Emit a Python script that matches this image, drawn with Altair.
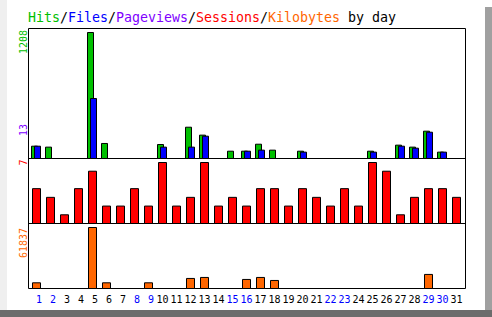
import altair as alt
import pandas as pd

days = list(range(1, 32))
hits = [118, 109, 0, 0, 1208, 144, 0, 0, 0, 134, 0, 300, 224, 0, 70, 70,
        137, 80, 0, 70, 0, 0, 0, 0, 70, 0, 128, 109, 262, 61, 0]
files = [118, 0, 0, 0, 575, 0, 0, 0, 0, 109, 0, 109, 214, 0, 0, 70,
         80, 0, 0, 61, 0, 0, 0, 0, 61, 0, 118, 99, 252, 61, 0]
sessions = [4, 3, 1, 4, 6, 2, 2, 4, 2, 7, 2, 3, 7, 2, 3, 2,
            4, 4, 2, 4, 3, 2, 4, 2, 7, 6, 1, 3, 4, 4, 3]
kbytes = [5776, 0, 0, 0, 61837, 5776, 0, 0, 5776, 0, 0, 10193, 11212, 0, 0, 9173,
          11212, 8154, 0, 0, 0, 0, 0, 0, 0, 0, 0, 0, 14270, 0, 0]
pageviews_max = 13
weekend_days = [1, 2, 8, 9, 15, 16, 22, 23, 29, 30]

title_parts = ["Hits", "/", "Files", "/", "Pageviews", "/", "Sessions", "/", "Kilobytes", "by day"]
title_colors = ["#00c000", "#000000", "#0000ff", "#000000", "#8000ff", "#000000",
                "#ff0000", "#000000", "#ff6600", "#000000"]

GREEN, BLUE, PURPLE, RED, ORANGE = "#00c000", "#0000ff", "#8000ff", "#ff0000", "#ff6600"
FONT = "DejaVu Sans Mono"

df = pd.DataFrame({"day": days, "hits": hits, "files": files,
                   "sessions": sessions, "kbytes": kbytes})
df["zero"] = 0
df["label"] = df["day"].astype(str)
df["lcolor"] = ["#0000ff" if d in weekend_days else "#000000" for d in days]

xs = alt.Scale(domain=[1, 31], range=[36.5, 456.5], nice=False, zero=False)
one = pd.DataFrame({"a": [0]})

def rect(x, x2, y, y2, fill, stroke=None):
    kw = dict(fill=fill)
    if stroke:
        kw.update(stroke=stroke, strokeWidth=1)
    else:
        kw.update(strokeWidth=0)
    return alt.Chart(one).mark_rect(**kw).encode(
        x=alt.value(x), x2=alt.value(x2), y=alt.value(y), y2=alt.value(y2))

# bevel frame
left = rect(0, 7, 0, 317, "#efefef")
right = rect(485, 492, 7, 317, "#a0a0a0")
bottom = rect(0, 492, 310, 317, "#6c6c6c")
frame = rect(28.5, 465.5, 28.5, 288.5, "white", "black")
seps = alt.Chart(pd.DataFrame({"y": [158.5, 223.5]})).mark_rule(color="black", strokeWidth=1).encode(
    x=alt.value(28.5), x2=alt.value(465.5),
    y=alt.Y("y:Q", scale=alt.Scale(domain=[0, 317], range=[0, 317], nice=False, zero=False), axis=None))

def bars(field, color, lo, hi, ydom, yrange):
    ys = alt.Scale(domain=ydom, range=yrange, nice=False, zero=False)
    return alt.Chart(df).transform_filter(
        f"datum.{field} > 0"
    ).transform_calculate(
        x0=f"datum.day + ({lo})/14", x1=f"datum.day + ({hi})/14"
    ).mark_rect(fill=color, stroke="black", strokeWidth=1).encode(
        x=alt.X("x0:Q", scale=xs, axis=None),
        x2="x1:Q",
        y=alt.Y(f"{field}:Q", scale=ys, axis=None),
        y2="zero:Q",
    )

hits_l = bars("hits", GREEN, -5, 1, [0, max(hits)], [158.5, 32.5])
files_l = bars("files", BLUE, -2, 4, [0, max(hits)], [158.5, 32.5])
sess_l = bars("sessions", RED, -4, 4, [0, max(sessions)], [223.5, 162.5])
kb_l = bars("kbytes", ORANGE, -4, 4, [0, max(kbytes)], [288.5, 227.5])

day_labels = alt.Chart(df).transform_calculate(
    xl="datum.day + (datum.day < 10 ? 2.5/14 : 0)"
).mark_text(font=FONT, fontSize=10, align="center", baseline="alphabetic").encode(
    x=alt.X("xl:Q", scale=xs, axis=None),
    y=alt.value(303),
    text="label:N",
    color=alt.Color("lcolor:N", scale=None),
)

def ylabel(text, color, y):
    return alt.Chart(one).mark_text(font=FONT, fontSize=10, angle=270, align="right",
                                    baseline="alphabetic", color=color, text=text).encode(
        x=alt.value(27), y=alt.value(y))

yl1 = ylabel(str(max(hits)), GREEN, 30)
yl2 = ylabel(str(pageviews_max), PURPLE, 124)
yl3 = ylabel(str(max(sessions)), RED, 159.5)
yl4 = ylabel(str(max(kbytes)), ORANGE, 228)

cols = []
c = 0
for p in title_parts:
    if p.startswith("by"):
        c += 1
    cols.append(c)
    c += len(p)
tdf = pd.DataFrame({"text": title_parts, "color": title_colors, "col": cols})
title = alt.Chart(tdf).mark_text(font=FONT, fontSize=13.3, align="left", baseline="alphabetic").encode(
    x=alt.X("col:Q", scale=alt.Scale(domain=[0, 46], range=[28, 28 + 8 * 46], nice=False, zero=False), axis=None),
    y=alt.value(22),
    text="text:N",
    color=alt.Color("color:N", scale=None),
)

chart = alt.layer(
    left, right, bottom, frame, seps, hits_l, files_l, sess_l, kb_l,
    day_labels, yl1, yl2, yl3, yl4, title
).resolve_scale(x="independent", y="independent").properties(
    width=492, height=317, padding=0, autosize="none", background="white"
).configure_view(stroke=None)

chart.save("out.html", embed_options={"renderer": "svg", "actions": False})
